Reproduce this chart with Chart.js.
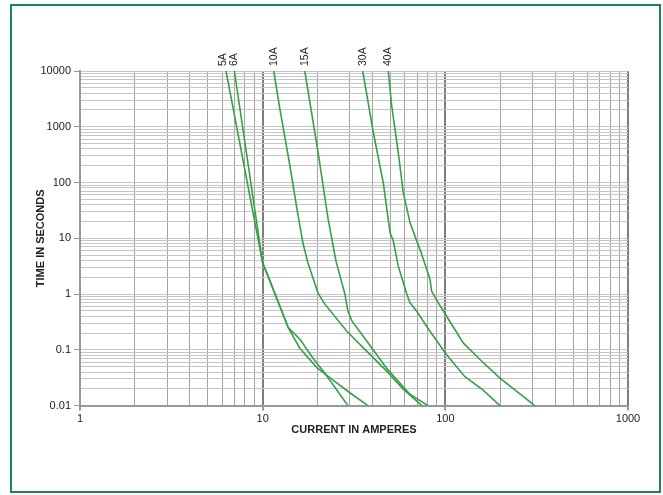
<!DOCTYPE html>
<html lang="en">
<head>
<meta charset="UTF-8">
<title>Fuse Time-Current Curves</title>
<script src="https://cdn.jsdelivr.net/npm/chart.js"></script>
<style>
    html, body {
        margin: 0;
        padding: 0;
        background: #fff;
    }
    #wrap {
        position: relative;
        width: 663px;
        height: 495px;
    }
    #frame {
        position: absolute;
        left: 10px;
        top: 4px;
        width: 647px;
        height: 485px;
        border: 2px solid #178a4e;
        pointer-events: none;
    }
    canvas {
        position: absolute;
        left: 0;
        top: 0;
    }
</style>
</head>
<body>
<div id="wrap">
    <canvas id="fuseChart" width="663" height="495"></canvas>
    <div id="frame"></div>
</div>
<script>
// fuse ratings (curve labels)
const fuseRatings = ['5A', '6A', '10A', '15A', '30A', '40A'];

// current (A) / time (s)
const amps5A  = [6.3, 10, 10.7, 12.1, 13.8, 16, 18.9, 21.9, 29.3];
const secs5A  = [10000, 3.6, 2.1, 0.75, 0.25, 0.155, 0.07, 0.038, 0.01];
const amps6A  = [7, 10, 10.7, 12.1, 13.8, 16, 19.8, 24.9, 30, 37.7];
const secs6A  = [10000, 3.6, 2.1, 0.75, 0.25, 0.106, 0.048, 0.027, 0.017, 0.01];
const amps10A = [11.5, 12.4, 14.1, 15.4, 16.6, 17.7, 20.1, 21.9, 28.9, 37.2, 47.9, 58.6, 74.4];
const secs10A = [10000, 2150, 200, 34, 8.3, 3.6, 1.04, 0.66, 0.215, 0.094, 0.041, 0.02, 0.01];
const amps15A = [17, 20.1, 22.8, 25.2, 28.2, 29.3, 30.8, 37.2, 47.9, 64, 80.3];
const secs15A = [10000, 350, 22.5, 3.9, 1.0, 0.49, 0.33, 0.142, 0.046, 0.016, 0.01];
const amps30A = [35.3, 40.3, 45.7, 49.8, 51.9, 55.2, 61.4, 64, 69.7, 82.4, 101.6, 128, 161, 199];
const secs30A = [10000, 805, 101, 12.7, 9, 3.2, 1.02, 0.7, 0.49, 0.215, 0.082, 0.033, 0.019, 0.01];
const amps40A = [48.7, 50.8, 55.2, 58.8, 64, 69.7, 72.6, 82.4, 84.1, 91.4, 101.6, 125.3, 154.7, 199, 309];
const secs40A = [10000, 2440, 352, 67, 19.3, 9, 6.4, 1.84, 1.13, 0.7, 0.4, 0.133, 0.067, 0.031, 0.01];

// axis decades
const xDecades = [1, 10, 100, 1000];
const yDecades = [0.01, 0.1, 1, 10, 100, 1000, 10000];

const FONT = '"Liberation Sans", Arial, Helvetica, sans-serif';
const CURVE = '#3a9e48';

function gridValues(decades) {
    const out = [];
    for (let i = 0; i < decades.length - 1; i++) {
        for (let m = 1; m < 10; m++) {
            out.push(parseFloat((m * decades[i]).toPrecision(6)));
        }
    }
    out.push(decades[decades.length - 1]);
    return out;
}
const isDecade = v => Math.abs(Math.log10(v) - Math.round(Math.log10(v))) < 1e-9;

const series = [
    [amps5A, secs5A], [amps6A, secs6A], [amps10A, secs10A],
    [amps15A, secs15A], [amps30A, secs30A], [amps40A, secs40A]
];

const datasets = series.map(([a, s], i) => ({
    label: fuseRatings[i],
    data: a.map((x, j) => ({ x: x, y: s[j] })),
    borderColor: CURVE,
    borderWidth: 1.6,
    pointRadius: 0,
    fill: false,
    tension: 0
}));

// rotated rating labels above each curve
const ratingLabels = {
    id: 'ratingLabels',
    afterDatasetsDraw(chart) {
        const { ctx, chartArea, scales } = chart;
        ctx.save();
        ctx.font = '10.5px ' + FONT;
        ctx.fillStyle = '#222';
        ctx.textAlign = 'left';
        ctx.textBaseline = 'middle';
        chart.data.datasets.forEach(ds => {
            let px = scales.x.getPixelForValue(ds.data[0].x);
            if (ds.label === '5A') px -= 3;
            ctx.save();
            ctx.translate(px, chartArea.top - 5);
            ctx.rotate(-Math.PI / 2);
            ctx.fillText(ds.label, 0, 0);
            ctx.restore();
        });
        ctx.restore();
    }
};

const xGrid = gridValues(xDecades);
const yGrid = gridValues(yDecades);

new Chart(document.getElementById('fuseChart'), {
    type: 'line',
    data: { datasets: datasets },
    options: {
        responsive: false,
        animation: false,
        layout: { padding: { left: 30, top: 71, right: 35, bottom: 58 } },
        plugins: {
            legend: { display: false },
            tooltip: { enabled: false }
        },
        scales: {
            x: {
                type: 'logarithmic',
                min: 1,
                max: 1000,
                afterBuildTicks: axis => {
                    axis.ticks = xGrid.map(v => ({ value: v, major: isDecade(v) }));
                },
                ticks: {
                    autoSkip: false,
                    maxRotation: 0,
                    padding: 2,
                    color: '#222',
                    font: { family: FONT, size: 11 },
                    callback: v => isDecade(v) ? String(v) : ''
                },
                grid: {
                    color: ctx => isDecade(ctx.tick.value) ? '#7d7d7d' : '#a3a3a3',
                    lineWidth: ctx => isDecade(ctx.tick.value) ? 2 : 1,
                    tickLength: 5,
                    tickColor: ctx => isDecade(ctx.tick.value) ? '#999' : 'rgba(0,0,0,0)'
                },
                border: { color: '#999', width: 2 },
                title: {
                    display: true,
                    text: 'CURRENT IN AMPERES',
                    color: '#222',
                    font: { family: FONT, size: 11, weight: 'bold' },
                    padding: { top: -4, bottom: 0 }
                }
            },
            y: {
                type: 'logarithmic',
                min: 0.01,
                max: 10000,
                afterFit: axis => { axis.width = 50; },
                afterBuildTicks: axis => {
                    axis.ticks = yGrid.map(v => ({ value: v, major: isDecade(v) }));
                },
                ticks: {
                    autoSkip: false,
                    padding: 3,
                    color: '#222',
                    font: { family: FONT, size: 11 },
                    callback: v => isDecade(v) ? String(v) : ''
                },
                grid: {
                    color: '#c6c6c6',
                    lineWidth: 1,
                    tickLength: 6,
                    tickColor: ctx => isDecade(ctx.tick.value) ? '#999' : 'rgba(0,0,0,0)'
                },
                border: { color: '#999', width: 2 },
                title: {
                    display: true,
                    text: 'TIME IN SECONDS',
                    color: '#222',
                    font: { family: FONT, size: 11, weight: 'bold' }
                }
            }
        }
    },
    plugins: [ratingLabels]
});
</script>
</body>
</html>
